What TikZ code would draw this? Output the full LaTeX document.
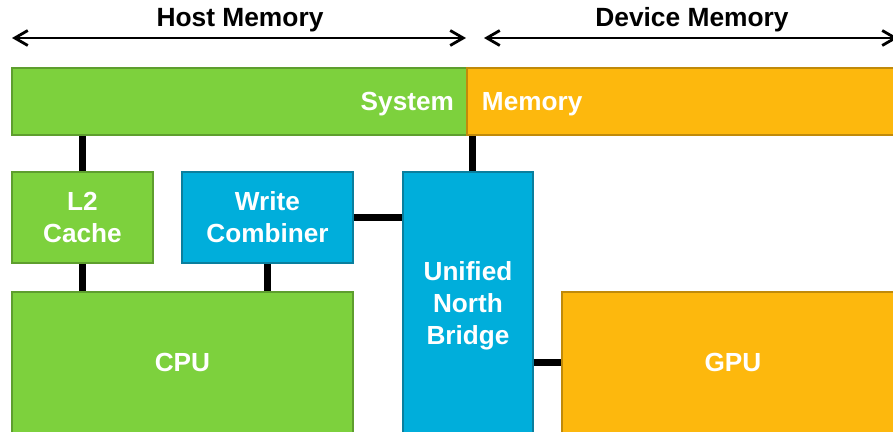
\documentclass[tikz,border=0pt]{standalone}
\usepackage{fontspec}
\setmainfont{Liberation Sans}
\usetikzlibrary{arrows.meta}

\definecolor{hostgreen}{HTML}{7DD13D}
\definecolor{hostgreenline}{HTML}{5E9E2E}
\definecolor{devorange}{HTML}{FDB80D}
\definecolor{devorangeline}{HTML}{C08A0A}
\definecolor{bridgeblue}{HTML}{00AEDB}
\definecolor{bridgeblueline}{HTML}{0A7F9E}

\tikzset{
  box/.style={line width=1.1pt, anchor=north west, text=white, align=center,
    font=\bfseries\fontsize{14.9}{18}\selectfont, inner sep=0pt},
  hostbox/.style={box, fill=hostgreen, draw=hostgreenline},
  devbox/.style={box, fill=devorange, draw=devorangeline},
  bridgebox/.style={box, fill=bridgeblue, draw=bridgeblueline},
  bus/.style={line width=4pt, black},
  span/.style={line width=1.6pt, {Straight Barb[length=2.6mm,width=3mm]}-{Straight Barb[length=2.6mm,width=3mm]}},
  spanlabel/.style={font=\bfseries\fontsize{15}{18}\selectfont}
}

\begin{document}
\begin{tikzpicture}[x=0.02cm, y=-0.02cm]
\useasboundingbox (0,0) rectangle (893,432);

% memory ranges
\coordinate (hostl) at (12,38);
\coordinate (hostr) at (466,38);
\coordinate (devl) at (484,38);
\coordinate (devr) at (898,38);
\draw[span] (hostl) -- (hostr);
\draw[span] (devl) -- (devr);
\node[spanlabel] (hostlbl) at (240,20) {Host Memory};
\node[spanlabel] (devlbl) at (692,20) {Device Memory};

% system memory bar
\node[hostbox, minimum height=1.34cm, text width=8.58cm, inner xsep=0.26cm, align=right, text depth=0pt]
  (sysmem) at (11,67) {System};
\node[devbox, minimum height=1.34cm, text width=8.3cm, inner xsep=0.3cm, align=left, text depth=0pt]
  (devmem) at (466,67) {Memory};

% host side
\node[hostbox, minimum width=2.82cm, minimum height=1.82cm] (l2) at (11,171) {L2\\Cache};
\node[bridgebox, minimum width=3.42cm, minimum height=1.82cm] (wc) at (181,171) {Write\\Combiner};
\node[hostbox, minimum width=6.82cm, minimum height=2.84cm] (cpu) at (11,291) {CPU};

% north bridge
\node[bridgebox, minimum width=2.6cm, minimum height=5.4cm, anchor=north west] (unb) at (402,171) {};
\node[box] (unblbl) at (unb.north) [anchor=north, yshift=-1.8cm] {Unified\\North\\Bridge};

% device side
\node[devbox, minimum width=6.84cm, minimum height=2.84cm] (gpu) at (561,291) {GPU};

% buses
\coordinate (unbtop) at ([xshift=0.1cm]unb.north);
\draw[bus] (l2.north) -- (l2.north |- sysmem.south);
\draw[bus] (unbtop) -- (unbtop |- sysmem.south);
\draw[bus] (l2.south) -- (l2.south |- cpu.north);
\draw[bus] (wc.south) -- (wc.south |- cpu.north);
\draw[bus] (wc.east) -- (wc.east -| unb.west);
\draw[bus] (gpu.west) -- (gpu.west -| unb.east);
\end{tikzpicture}
\end{document}
